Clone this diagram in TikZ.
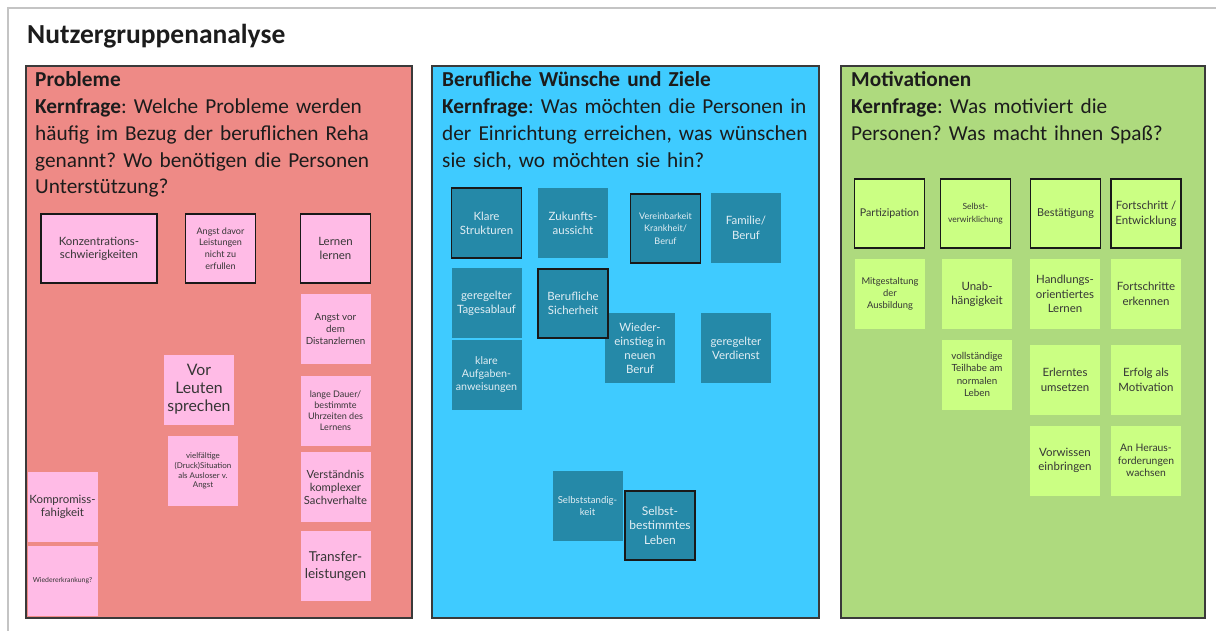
\documentclass[tikz,border=0pt]{standalone}
\usepackage{fontspec}
\setmainfont{Carlito}
\newfontfamily\notefont{Lato}[Scale=1.09]
\newcommand\fsz[2]{\fontsize{#1}{#2}\selectfont}
\frenchspacing

\definecolor{frameline}{HTML}{C4C4C4}
\definecolor{panelline}{HTML}{3A3A3A}
\definecolor{redpanel}{HTML}{EE8A86}
\definecolor{bluepanel}{HTML}{3FCBFF}
\definecolor{greenpanel}{HTML}{AEDA7E}
\definecolor{pinknote}{HTML}{FFBBE6}
\definecolor{tealnote}{HTML}{2589A8}
\definecolor{limenote}{HTML}{CBFF83}
\definecolor{darktext}{HTML}{363636}
\definecolor{lighttext}{HTML}{E2EEF4}
\definecolor{headtext}{HTML}{1C1C1C}

\tikzset{
  panel/.style={draw=panelline, line width=1.2pt},
  header/.style={anchor=base west, inner sep=0pt, text width=380pt, align=left,
    text=headtext, font=\fsz{21.3}{26.7}},
  note/.style={inner sep=0pt, minimum width=70pt, minimum height=70pt, align=center},
  pink/.style={note, fill=pinknote, text=darktext},
  teal/.style={note, fill=tealnote, text=lighttext},
  lime/.style={note, fill=limenote, text=darktext},
  framed/.style={draw=black!90, line width=1.6pt},
}

\begin{document}
\begin{tikzpicture}[x=1pt, y=-1pt]
\useasboundingbox (0,0) rectangle (1216,631);
\fill[white] (0,0) rectangle (1216,631);

% sheet edges
\draw[frameline, line width=2.5pt] (7,8) -- (1216,8);
\draw[frameline, line width=2.5pt] (8,7) -- (8,631);

\node[anchor=base west, inner sep=0pt, text=headtext, font=\bfseries\fsz{27.5}{30}] (title) at (27,44) {Nutzergruppenanalyse};

% three panels
\filldraw[panel, fill=redpanel]   (26,66)  rectangle (412,618);
\filldraw[panel, fill=bluepanel]  (432,66) rectangle (819,618);
\filldraw[panel, fill=greenpanel] (841,66) rectangle (1205,618);

\node[header] (h1) at (35,87) {\textbf{Probleme}\\\textbf{Kernfrage}: Welche Probleme werden\\häufig im Bezug der beruflichen Reha\\genannt? Wo benötigen die Personen\\Unterstützung?};
\node[header] (h2) at (442,87) {\textbf{Berufliche Wünsche und Ziele}\\\textbf{Kernfrage}: Was möchten die Personen in\\der Einrichtung erreichen, was wünschen\\sie sich, wo möchten sie hin?};
\node[header] (h3) at (851,87) {\textbf{Motivationen}\\\textbf{Kernfrage}: Was motiviert die\\Personen? Was macht ihnen Spaß?};

% Probleme
\node[pink, framed, minimum width=116pt, minimum height=69pt, font=\notefont\fsz{10.5}{13}] (p1) at (99,248.5) {Konzentrations-\\schwierigkeiten};
\node[pink, framed, minimum height=69pt, font=\notefont\fsz{8.3}{11.7}] (p2) at (220.5,248.5) {Angst davor\\Leistungen\\nicht zu\\erfullen};
\node[pink, framed, minimum height=69pt, font=\notefont\fsz{10.5}{13.3}] (p3) at (335.5,248.5) {Lernen\\lernen};
\node[pink, font=\notefont\fsz{9}{12.2}] (p4) at (335.5,329) {Angst vor\\dem\\Distanzlernen};
\node[pink, font=\notefont\fsz{8.3}{11}] (p5) at (335.5,410.5) {lange Dauer/\\bestimmte\\Uhrzeiten des\\Lernens};
\node[pink, font=\notefont\fsz{14.5}{18}] (p6) at (199,389.5) {Vor\\Leuten\\sprechen};
\node[pink, font=\notefont\fsz{7.3}{9.6}] (p7) at (203,471) {vielfältige\\(Druck)Situation\\als Ausloser v.\\Angst};
\node[pink, font=\notefont\fsz{10.3}{13}] (p8) at (335.5,487) {Verständnis\\komplexer\\Sachverhalte};
\node[pink, font=\notefont\fsz{12.5}{16.7}] (p9) at (335.5,566) {Transfer-\\leistungen};
\node[pink, font=\notefont\fsz{10.5}{13.3}] (p10) at (62.5,507) {Kompromiss-\\fahigkeit};
\node[pink, font=\notefont\fsz{6.3}{8}] (p11) at (62.5,581) {Wiedererkrankung?};

% Berufliche Wuensche und Ziele
\node[teal, framed, font=\notefont\fsz{10.5}{14.3}] (b1) at (486.5,223) {Klare\\Strukturen};
\node[teal, font=\notefont\fsz{10.5}{14.3}] (b2) at (573,223) {Zukunfts-\\aussicht};
\node[teal, framed, minimum height=69pt, font=\notefont\fsz{8.3}{12.3}] (b3) at (665.5,228.5) {Vereinbarkeit\\Krankheit/\\Beruf};
\node[teal, font=\notefont\fsz{10.5}{14.7}] (b4) at (746,228) {Familie/\\Beruf};
\node[teal, font=\notefont\fsz{10.5}{14}] (b5) at (486.5,303) {geregelter\\Tagesablauf};
\node[teal, font=\notefont\fsz{9.8}{13}] (b6) at (486.5,375) {klare\\Aufgaben-\\anweisungen};
\node[teal, font=\notefont\fsz{10.5}{14}] (b7) at (640,348) {Wieder-\\einstieg in\\neuen\\Beruf};
\node[teal, framed, minimum height=69pt, font=\notefont\fsz{10.5}{14.5}] (b8) at (573,303.5) {Berufliche\\Sicherheit};
\node[teal, font=\notefont\fsz{10.5}{14}] (b9) at (736,348) {geregelter\\Verdienst};
\node[teal, font=\notefont\fsz{8.8}{12.3}] (b10) at (587.5,506) {Selbststandig-\\keit};
\node[teal, framed, minimum height=69pt, font=\notefont\fsz{11}{14.7}] (b11) at (660,525.5) {Selbst-\\bestimmtes\\Leben};

% Motivationen
\node[lime, framed, minimum height=69pt, font=\notefont\fsz{9.8}{13}] (g1) at (889.5,213.5) {Partizipation};
\node[lime, framed, minimum height=69pt, font=\notefont\fsz{7.8}{12.3}] (g2) at (975.5,213.5) {Selbst-\\verwirklichung};
\node[lime, framed, minimum height=69pt, font=\notefont\fsz{10}{13}] (g3) at (1065.5,213.5) {Bestätigung};
\node[lime, framed, minimum height=69pt, font=\notefont\fsz{10.5}{14.7}] (g4) at (1146,213.5) {Fortschritt /\\Entwicklung};
\node[lime, font=\notefont\fsz{8.6}{11.7}] (g5) at (890,294) {Mitgestaltung\\der\\Ausbildung};
\node[lime, font=\notefont\fsz{10.5}{14}] (g6) at (977,294) {Unab-\\hängigkeit};
\node[lime, font=\notefont\fsz{10.5}{14.3}] (g7) at (1065,294) {Handlungs-\\orientiertes\\Lernen};
\node[lime, font=\notefont\fsz{10.5}{14.5}] (g8) at (1146,294) {Fortschritte\\erkennen};
\node[lime, font=\notefont\fsz{9}{12.3}] (g9) at (977,374.5) {vollständige\\Teilhabe am\\normalen\\Leben};
\node[lime, font=\notefont\fsz{10.5}{14.7}] (g10) at (1065,380) {Erlerntes\\umsetzen};
\node[lime, font=\notefont\fsz{10.5}{14.7}] (g11) at (1146,380) {Erfolg als\\Motivation};
\node[lime, font=\notefont\fsz{10.5}{14.7}] (g12) at (1065,460.5) {Vorwissen\\einbringen};
\node[lime, font=\notefont\fsz{9.5}{12.7}] (g13) at (1146,460.5) {An Heraus-\\forderungen\\wachsen};
\end{tikzpicture}
\end{document}
